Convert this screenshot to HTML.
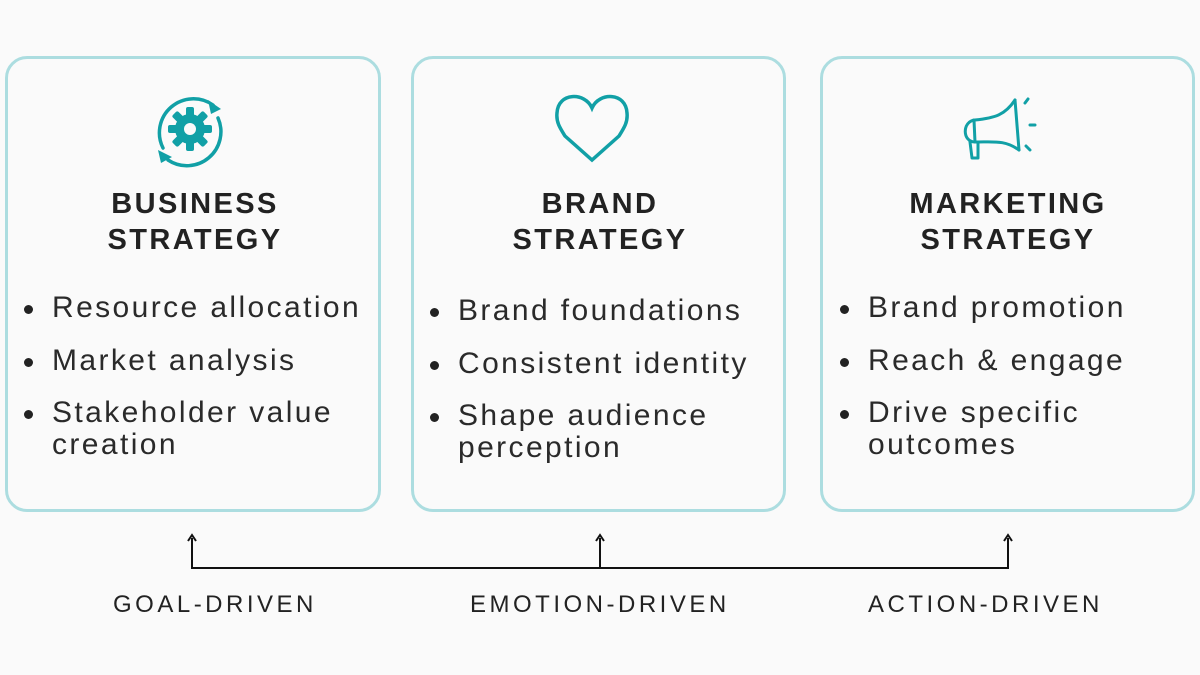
<!DOCTYPE html>
<html><head><meta charset="utf-8"><style>
body{margin:0;width:1200px;height:675px;background:#fafafa;position:relative;overflow:hidden;font-family:"Liberation Sans",sans-serif;color:#2a2a2a}
.box{position:absolute;top:56px;height:450px;border:3px solid #acdde0;border-radius:22px;box-sizing:content-box}
.t{position:absolute;width:380px;text-align:center;font-weight:bold;font-size:29px;letter-spacing:2.4px;line-height:36px;top:186px;color:#222}
.b{position:absolute;font-size:30px;letter-spacing:2.4px;line-height:32px;color:#2a2a2a;white-space:nowrap}
.b:before{content:"";position:absolute;left:-28px;top:13px;width:9px;height:9px;border-radius:50%;background:#222}
.l{position:absolute;top:591px;font-size:24px;letter-spacing:3.5px;color:#222;white-space:nowrap}
</style></head><body>
<div class="box" style="left:5px;width:370px"></div>
<div class="box" style="left:411px;width:369px"></div>
<div class="box" style="left:820px;width:369px"></div>

<svg style="position:absolute;left:0;top:0" width="1200" height="675">
<g fill="none" stroke="#11a0a6" stroke-width="3.5" stroke-linecap="round">
 <path d="M163 148 A34 34 0 0 1 213 105"/>
 <path d="M218 118 A34 34 0 0 1 168 160"/>
</g>
<g fill="#11a0a6">
 <polygon points="221,109 208,100 211,114"/>
 <polygon points="158,150 161,163 172,157"/>
 <circle cx="190" cy="129" r="15"/>
 <g transform="translate(190 129)">
  <rect x="-4" y="-22" width="8" height="44" rx="2"/>
  <rect x="-4" y="-22" width="8" height="44" rx="2" transform="rotate(45)"/>
  <rect x="-4" y="-22" width="8" height="44" rx="2" transform="rotate(90)"/>
  <rect x="-4" y="-22" width="8" height="44" rx="2" transform="rotate(135)"/>
 </g>
</g>
<circle cx="190" cy="129" r="6" fill="#fafafa"/>
<path d="M592 108 C585 92 558 92 557 113 C556 122 560 128 565 136 L592 160 L619 136 C624 128 628 122 627 113 C626 92 599 92 592 108 Z" fill="none" stroke="#11a0a6" stroke-width="3.5"/>
<g fill="none" stroke="#11a0a6" stroke-width="3" stroke-linecap="round" stroke-linejoin="round">
 <path d="M1015 100 L1019 150"/>
 <path d="M1015 100 C1005 115 995 118 975 120 C962 121 962 142 975 142 C995 142 1005 140 1019 150"/>
 <path d="M974 120 L975 142"/>
 <path d="M970 142 L972 158 L978 158 L978 142"/>
 <path d="M1025 103 L1028 99 M1030 125 L1035 125 M1026 146 L1030 150"/>
</g>
<g stroke="#111" stroke-width="2" fill="none">
 <path d="M192 538 V568 H1008 V538 M600 538 V568"/>
 <path d="M188 541 L192 535 L196 541 M596 541 L600 535 L604 541 M1004 541 L1008 535 L1012 541"/>
</g>
</svg>

<div class="t" style="left:5px">BUSINESS<br>STRATEGY</div>
<div class="t" style="left:410px">BRAND<br>STRATEGY</div>
<div class="t" style="left:818px">MARKETING<br>STRATEGY</div>

<div class="b" style="left:52px;top:292px">Resource allocation</div>
<div class="b" style="left:52px;top:345px">Market analysis</div>
<div class="b" style="left:52px;top:397px">Stakeholder value<br>creation</div>

<div class="b" style="left:458px;top:295px">Brand foundations</div>
<div class="b" style="left:458px;top:348px">Consistent identity</div>
<div class="b" style="left:458px;top:400px">Shape audience<br>perception</div>

<div class="b" style="left:868px;top:292px">Brand promotion</div>
<div class="b" style="left:868px;top:345px">Reach &amp; engage</div>
<div class="b" style="left:868px;top:397px">Drive specific<br>outcomes</div>

<div class="l" style="left:113px">GOAL-DRIVEN</div>
<div class="l" style="left:470px">EMOTION-DRIVEN</div>
<div class="l" style="left:868px">ACTION-DRIVEN</div>
</body></html>
